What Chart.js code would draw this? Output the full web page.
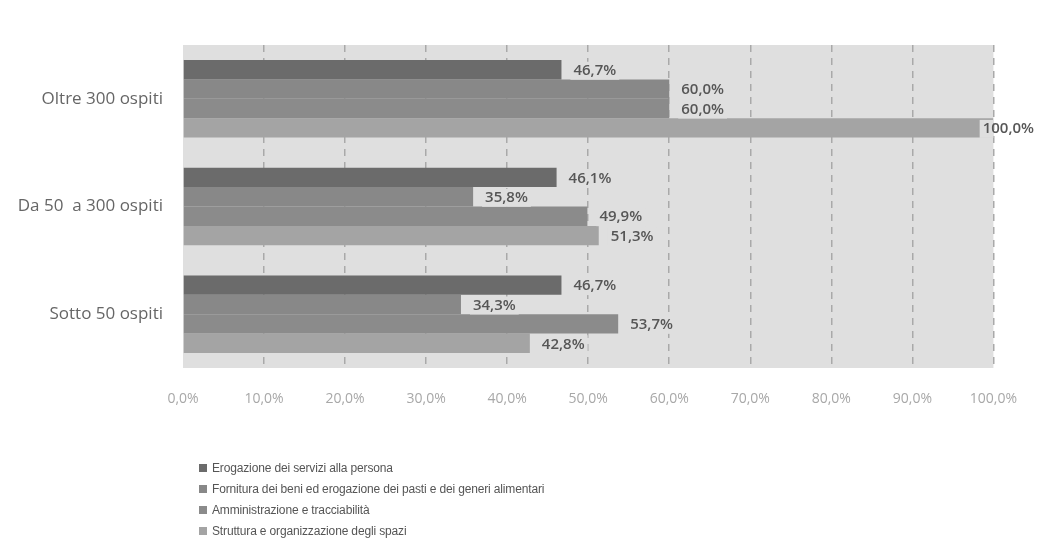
<!DOCTYPE html>
<html lang="it">
<head>
<meta charset="utf-8">
<script src="https://cdn.jsdelivr.net/npm/chart.js@4.4.1/dist/chart.umd.min.js"></script>
<style>
  html, body { margin: 0; padding: 0; background: #fff; }
  #wrap { position: relative; width: 1040px; height: 549px; }
  #legend { position: absolute; left: 199px; top: 458px; font: 12px 'Liberation Sans', sans-serif; letter-spacing: -0.15px; color: #555; }
  #legend div { height: 21px; line-height: 21px; white-space: nowrap; }
  #legend span { display: inline-block; width: 8px; height: 8px; margin-right: 5px; vertical-align: 0; }
</style>
</head>
<body>
<div id="wrap">
  <canvas id="c" width="1040" height="549"></canvas>
  <div id="legend"></div>
</div>
<script>
/* Barre orizzontali: aree di valutazione per dimensione della struttura. */

const categorie = ['Oltre 300 ospiti', 'Da 50  a 300 ospiti', 'Sotto 50 ospiti'];
const serie = [
  'Erogazione dei servizi alla persona',
  'Fornitura dei beni ed erogazione dei pasti e dei generi alimentari',
  'Amministrazione e tracciabilità',
  'Struttura e organizzazione degli spazi'
];
const erogazione     = [46.7, 46.1, 46.7];
const fornitura      = [60.0, 35.8, 34.3];
const amministrazione = [60.0, 49.9, 53.7];
const struttura      = [100.0, 51.3, 42.8];
const colori = ['#6b6b6b', '#888888', '#8b8b8b', '#a4a4a4'];

const PLOT_BG = '#dfdfdf';
const fmtPct = v => v.toFixed(1).replace('.', ',') + '%';

// sfondo dell'area del grafico
const plotBg = {
  id: 'plotBg',
  beforeDraw(chart) {
    const { ctx, chartArea: a } = chart;
    ctx.save();
    ctx.fillStyle = PLOT_BG;
    ctx.fillRect(a.left, a.top, a.right - a.left, a.bottom - a.top);
    ctx.restore();
  }
};

// etichette dei valori alla fine delle barre
const valueLabels = {
  id: 'valueLabels',
  afterDatasetsDraw(chart) {
    const { ctx, chartArea: a } = chart;
    ctx.save();
    ctx.font = '600 15px "Open Sans", sans-serif';
    ctx.textBaseline = 'middle';
    chart.data.datasets.forEach((ds, i) => {
      chart.getDatasetMeta(i).data.forEach((bar, j) => {
        const txt = fmtPct(ds.data[j]);
        const w = ctx.measureText(txt).width;
        let x = bar.x + 12;
        if (x + w > chart.width - 6) x = chart.width - 6 - w;
        const y = bar.y + 1;
        // riquadro solo dentro l'area del grafico
        const bx = x - 3, bw = Math.min(w + 6, a.right - bx);
        if (bw > 0) {
          ctx.fillStyle = PLOT_BG;
          ctx.fillRect(bx, y - 9, bw, 18);
        }
        ctx.fillStyle = '#565656';
        ctx.fillText(txt, x, y);
      });
    });
    ctx.restore();
  }
};

const datasets = [erogazione, fornitura, amministrazione, struttura].map((d, i) => ({
  label: serie[i],
  data: d,
  backgroundColor: colori[i],
  borderWidth: 0,
  categoryPercentage: 0.72,
  barPercentage: 1
}));

new Chart(document.getElementById('c'), {
  type: 'bar',
  data: { labels: categorie, datasets },
  options: {
    indexAxis: 'y',
    responsive: false,
    animation: false,
    layout: { padding: { top: 45, right: 43, bottom: 131, left: 0 } },
    plugins: { legend: { display: false }, tooltip: { enabled: false } },
    scales: {
      x: {
        min: 0, max: 100,
        ticks: { stepSize: 10, padding: 23, color: '#a8a8a8',
          font: { family: '"Open Sans", sans-serif', size: 14 },
          callback: v => fmtPct(v) },
        grid: { drawTicks: false, lineWidth: 1.5,
          color: c => c.tick && c.tick.value === 0 ? 'rgba(0,0,0,0)' : '#a9a9a9' },
        border: { display: false, dash: [7, 6] },
        afterFit: s => { s.height = 50; }
      },
      y: {
        ticks: { padding: 12, color: '#666',
          font: { family: '"Open Sans", sans-serif', size: 17 } },
        grid: { display: false },
        border: { display: false },
        afterFit: s => { s.width = 183; }
      }
    }
  },
  plugins: [plotBg, valueLabels]
});

// legenda verticale come nell'originale
document.getElementById('legend').innerHTML = serie
  .map((s, i) => `<div><span style="background:${colori[i]}"></span>${s}</div>`).join('');
</script>
</body>
</html>
